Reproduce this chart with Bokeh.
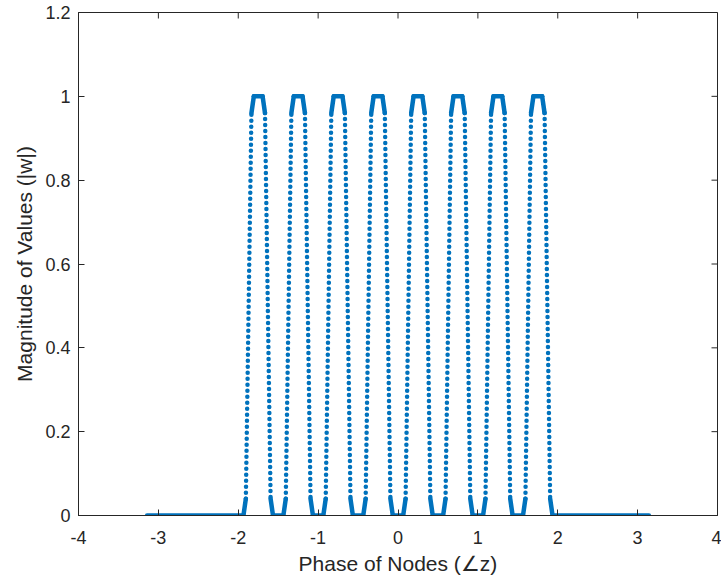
from bokeh.plotting import figure
from bokeh.models import FixedTicker, CustomJSTickFormatter, Range1d
from bokeh.embed import file_html
from bokeh.resources import INLINE

# ---- data ----
x_ticks = [-4, -3, -2, -1, 0, 1, 2, 3, 4]
y_ticks = [0, 0.2, 0.4, 0.6, 0.8, 1.0, 1.2]

baseline_left_x = [-3.1416, -1.935]
baseline_right_x = [1.935, 3.1416]

# vertex levels of each pulse (bottom, knee, knee, top, top, knee, knee, bottom)
pulse_levels = [0.0, 0.04, 0.96, 1.0, 1.0, 0.96, 0.04, 0.0]
pulse_x = [
    [-1.935, -1.905, -1.835, -1.805, -1.695, -1.665, -1.595, -1.565],
    [-1.435, -1.405, -1.335, -1.305, -1.195, -1.165, -1.095, -1.065],
    [-0.935, -0.905, -0.835, -0.805, -0.695, -0.665, -0.595, -0.565],
    [-0.435, -0.405, -0.335, -0.305, -0.195, -0.165, -0.095, -0.065],
    [0.065, 0.095, 0.165, 0.195, 0.305, 0.335, 0.405, 0.435],
    [0.565, 0.595, 0.665, 0.695, 0.805, 0.835, 0.905, 0.935],
    [1.065, 1.095, 1.165, 1.195, 1.305, 1.335, 1.405, 1.435],
    [1.565, 1.595, 1.665, 1.695, 1.805, 1.835, 1.905, 1.935],
]

# ---- build the polyline from the data ----
xs = list(baseline_left_x)
ys = [0.0, 0.0]
for px in pulse_x:
    xs += px
    ys += pulse_levels
xs += baseline_right_x
ys += [0.0, 0.0]

solid = dict(x0=[], y0=[], x1=[], y1=[])
dotted = dict(x0=[], y0=[], x1=[], y1=[])
for i in range(len(xs) - 1):
    if xs[i] == xs[i + 1] and ys[i] == ys[i + 1]:
        continue
    d = dotted if abs(ys[i + 1] - ys[i]) > 0.5 else solid
    d["x0"].append(xs[i]); d["y0"].append(ys[i])
    d["x1"].append(xs[i + 1]); d["y1"].append(ys[i + 1])

BLUE = "#0072BD"
DARK = "#262626"
FONT = "Liberation Sans"
X0, X1 = x_ticks[0], x_ticks[-1]
Y0, Y1 = y_ticks[0], y_ticks[-1]

p = figure(width=721, height=585, output_backend="svg", toolbar_location=None,
           x_range=Range1d(X0, X1), y_range=Range1d(Y0, Y1),
           min_border_left=78, min_border_right=4, min_border_top=12, min_border_bottom=70)
p.background_fill_color = "white"
p.border_fill_color = "white"
p.grid.visible = False
p.outline_line_color = DARK
p.outline_line_width = 1

p.segment(x0="x0", y0="y0", x1="x1", y1="y1", source=solid,
          line_color=BLUE, line_width=4.5, line_cap="round", line_join="round")
p.segment(x0="x0", y0="y0", x1="x1", y1="y1", source=dotted,
          line_color=BLUE, line_width=4.5, line_cap="round", line_dash="0 6")

# mirrored inward ticks on the top and right box edges
p.ray(x=x_ticks, y=[Y1] * len(x_ticks), length=6, length_units="screen",
      angle=-90, angle_units="deg", line_color=DARK, line_width=1)
p.ray(x=[X1] * len(y_ticks), y=y_ticks, length=6, length_units="screen",
      angle=180, angle_units="deg", line_color=DARK, line_width=1)

def style(ax, ticks, fmt):
    ax.ticker = FixedTicker(ticks=ticks)
    ax.formatter = CustomJSTickFormatter(code=fmt)
    ax.minor_tick_line_color = None
    ax.major_tick_in = 6
    ax.major_tick_out = 0
    ax.axis_line_color = DARK
    ax.major_tick_line_color = DARK
    ax.major_label_text_color = DARK
    ax.major_label_text_font = FONT
    ax.major_label_text_font_size = "18px"
    ax.axis_label_text_color = DARK
    ax.axis_label_text_font = FONT
    ax.axis_label_text_font_size = "21px"
    ax.axis_label_text_font_style = "normal"

xfmt = "return tick.toFixed(0);"
yfmt = "return tick.toFixed(1).replace(/\\.0$/, '');"
style(p.xaxis[0], x_ticks, xfmt)
style(p.yaxis[0], y_ticks, yfmt)
p.xaxis[0].axis_label = "Phase of Nodes (\u2220z)"
p.yaxis[0].axis_label = "Magnitude of Values (|w|)"
p.xaxis[0].major_label_standoff = 15
p.xaxis[0].axis_label_standoff = 5
p.yaxis[0].major_label_standoff = 8
p.yaxis[0].axis_label_standoff = 6

open("out.html", "w").write(file_html(p, INLINE))
